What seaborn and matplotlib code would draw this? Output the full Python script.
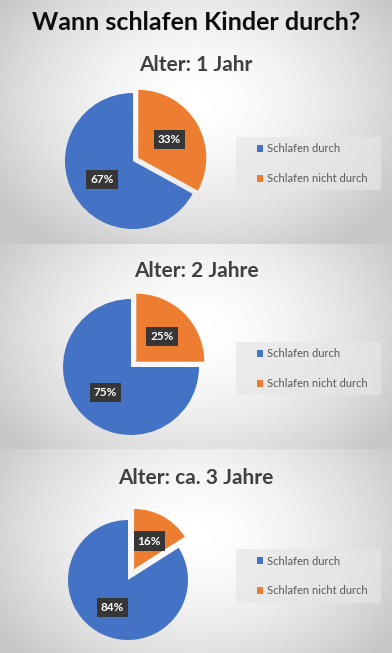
import numpy as np
import matplotlib
matplotlib.use("Agg")
import matplotlib.pyplot as plt
from matplotlib.patches import Rectangle
import seaborn as sns

# data
title = "Wann schlafen Kinder durch?"
ages = ["Alter: 1 Jahr", "Alter: 2 Jahre", "Alter: ca. 3 Jahre"]
categories = ["Schlafen durch", "Schlafen nicht durch"]
durch = [67, 75, 84]
nicht_durch = [33, 25, 16]

colors = ["#4472C4", "#ED7D31"]

sns.set_theme(style="white")
plt.rcParams["font.family"] = ["Lato", "DejaVu Sans"]

W, H = 392, 653
fig = plt.figure(figsize=(W / 100, H / 100), dpi=100)


def fx(x):
    return x / W


def fy(y):
    return 1 - y / H


# panels: top, bottom (px), pie centre, radius, explode, legend box
panels = [
    dict(top=0, bot=244, sub_y=65, cx=133, cy=161, r=68, ex=0.09, leg=(236, 137, 381, 190)),
    dict(top=244, bot=449, sub_y=271, cx=131, cy=367, r=68, ex=0.11, leg=(236, 342, 381, 395)),
    dict(top=449, bot=653, sub_y=478, cx=128, cy=580, r=60, ex=0.21, leg=(236, 549, 381, 603)),
]

# gradient background
bg = fig.add_axes([0, 0, 1, 1])
bg.set_axis_off()
img = np.ones((H, W))
yy, xx = np.mgrid[0:H, 0:W]
for p in panels:
    h = p["bot"] - p["top"]
    cyc = p["top"] + 0.42 * h
    d = np.sqrt(((xx - 196) / 235.0) ** 2 + ((yy - cyc) / 175.0) ** 2)
    val = np.clip(1.0 - 0.22 * d ** 1.6, 0.78, 1.0)
    m = (yy >= p["top"]) & (yy < p["bot"])
    img[m] = val[m]
bg.imshow(img, cmap="gray", vmin=0, vmax=1, extent=[0, 1, 0, 1], aspect="auto")
bg.set_xlim(0, 1)
bg.set_ylim(0, 1)

fig.text(0.5, fy(23), title, ha="center", va="center", fontsize=18,
         fontweight="bold", color="#0d0d0d")

for i, p in enumerate(panels):
    fig.text(fx(196), fy(p["sub_y"]), ages[i], ha="center", va="center",
             fontsize=15, fontweight="bold", color="#404040")

    lim = 1.25
    side = 2 * lim * p["r"]
    ax = fig.add_axes([fx(p["cx"] - side / 2), fy(p["cy"] + side / 2),
                       side / W, side / H])
    vals = [durch[i], nicht_durch[i]]
    wedges, texts, autotexts = ax.pie(
        vals, colors=colors, startangle=90, counterclock=True,
        explode=[0, p["ex"]], autopct="%d%%", pctdistance=0.53,
        wedgeprops=dict(linewidth=0),
        textprops=dict(color="white", fontsize=8.5, fontweight="bold"))
    for t in autotexts:
        t.set_bbox(dict(facecolor="#363636", edgecolor="none", pad=3))
    ax.set_xlim(-lim, lim)
    ax.set_ylim(-lim, lim)
    ax.set_aspect("equal")
    ax.set_axis_off()

    x0, y0, x1, y1 = p["leg"]
    fig.patches.append(Rectangle((fx(x0), fy(y1)), (x1 - x0) / W, (y1 - y0) / H,
                                 transform=fig.transFigure, facecolor="#e6e6e6",
                                 edgecolor="none", alpha=0.7, zorder=1))
    leg = fig.legend(wedges, categories, loc="center left",
                     bbox_to_anchor=(fx(x0 + 15), fy((y0 + y1) / 2)),
                     frameon=False, fontsize=8, labelcolor="#595959",
                     handlelength=0.6, handleheight=0.6, handletextpad=0.3,
                     labelspacing=1.7, borderpad=0)

fig.savefig("out.png", dpi=100)
